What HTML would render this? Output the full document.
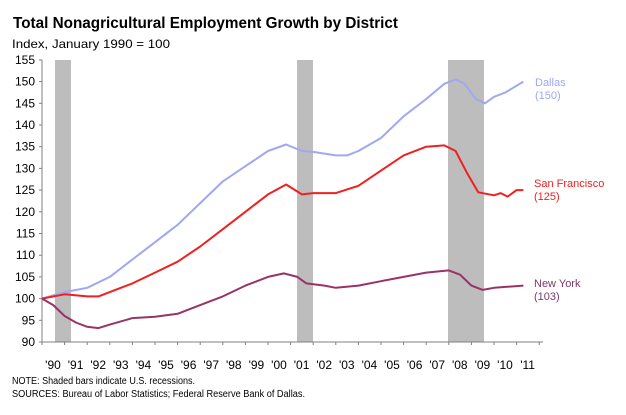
<!DOCTYPE html>
<html><head><meta charset="utf-8"><style>
body{margin:0;background:#fff;width:626px;height:410px;overflow:hidden;font-family:"Liberation Sans",Arial,sans-serif}
</style></head><body>
<svg id="s" width="626" height="410" xmlns="http://www.w3.org/2000/svg" font-family="Liberation Sans, Arial, sans-serif">
<text x="13" y="28" font-size="16" font-weight="bold" fill="#000" textLength="385" lengthAdjust="spacingAndGlyphs">Total Nonagricultural Employment Growth by District</text>
<text x="12" y="48" font-size="12" fill="#000" textLength="158" lengthAdjust="spacingAndGlyphs">Index,  January 1990 = 100</text>
<rect x="55" y="60" width="16" height="282" fill="#bdbdbd"/>
<rect x="297" y="60" width="16" height="282" fill="#bdbdbd"/>
<rect x="448" y="60" width="36" height="282" fill="#bdbdbd"/>
<g id="ax" stroke="#808080" stroke-width="1"></g>
<g id="lab" font-size="12" fill="#000"></g>
<g id="ln" fill="none" stroke-width="2" stroke-linejoin="round"></g>
<text x="535" y="86" font-size="11" fill="#9fa8f0">Dallas</text>
<text x="535" y="99" font-size="11" fill="#9fa8f0">(150)</text>
<text x="534" y="187" font-size="11" fill="#f02020">San Francisco</text>
<text x="534" y="200" font-size="11" fill="#f02020">(125)</text>
<text x="534" y="287" font-size="11" fill="#7a3a6a">New York</text>
<text x="534" y="300" font-size="11" fill="#7a3a6a">(103)</text>
<text x="12" y="384" font-size="10" fill="#000" textLength="183" lengthAdjust="spacingAndGlyphs">NOTE: Shaded bars indicate U.S. recessions.</text>
<text x="12" y="397" font-size="10" fill="#000" textLength="293" lengthAdjust="spacingAndGlyphs">SOURCES: Bureau of Labor Statistics; Federal Reserve Bank of Dallas.</text>
</svg>
<script>
var X=function(y){return 42+(y-1990)*22.6}, Y=function(v){return 342-(v-90)*4.34};
var ax=document.getElementById('ax'),lab=document.getElementById('lab'),ln=document.getElementById('ln');
var h='<line x1="42" y1="60" x2="42" y2="342"/><line x1="42" y1="342" x2="543" y2="342"/>';
var l='';
for(var v=90;v<=155;v+=5){var y=Y(v);h+='<line x1="39" y1="'+y+'" x2="42" y2="'+y+'"/>';l+='<text x="35" y="'+(y+4)+'" text-anchor="end">'+v+'</text>';}
for(var i=0;i<=22;i++){var x=X(1990+i);h+='<line x1="'+x+'" y1="342" x2="'+x+'" y2="345"/>';}
for(var i=0;i<22;i++){var yr=(90+i)%100;l+='<text x="'+(53+i*22.6)+'" y="369" text-anchor="middle">\''+(yr<10?'0'+yr:yr)+'</text>';}
ax.innerHTML=h;lab.innerHTML=l;
var D=[[1990,100],[1991,101.5],[1992,102.5],[1993,105],[1994,109],[1995,113],[1996,117],[1997,122],[1998,127],[1999,130.5],[2000,134],[2000.8,135.5],[2001.5,134],[2002,133.8],[2003,133],[2003.5,133],[2004,134],[2005,137],[2006,142],[2007,146],[2007.8,149.5],[2008.3,150.5],[2008.7,149.5],[2009.2,146],[2009.6,145],[2010,146.5],[2010.5,147.5],[2011.3,150]];
var S=[[1990,100],[1991,101],[1992,100.5],[1992.5,100.5],[1993,101.5],[1994,103.5],[1995,106],[1996,108.5],[1997,112],[1998,116],[1999,120],[2000,124],[2000.8,126.3],[2001.5,124],[2002,124.3],[2003,124.3],[2004,126],[2005,129.5],[2006,133],[2007,135],[2007.8,135.3],[2008.3,134],[2008.8,129],[2009.3,124.5],[2010,123.8],[2010.3,124.3],[2010.6,123.5],[2011,125],[2011.3,125]];
var N=[[1990,100],[1990.5,98.5],[1991,96],[1991.5,94.5],[1992,93.5],[1992.5,93.2],[1993,94],[1994,95.5],[1995,95.8],[1996,96.5],[1997,98.5],[1998,100.5],[1999,103],[2000,105],[2000.7,105.8],[2001.3,105],[2001.7,103.5],[2002.5,103],[2003,102.5],[2004,103],[2005,104],[2006,105],[2007,106],[2008,106.5],[2008.5,105.5],[2009,103],[2009.5,102],[2010,102.5],[2011.3,103]];
function p(a,c){return '<polyline stroke="'+c+'" points="'+a.map(function(q){return X(q[0]).toFixed(1)+','+Y(q[1]).toFixed(1)}).join(' ')+'"/>';}
ln.innerHTML=p(D,'#9fa8f0')+p(S,'#f02020')+p(N,'#993366');
</script>
</body></html>
